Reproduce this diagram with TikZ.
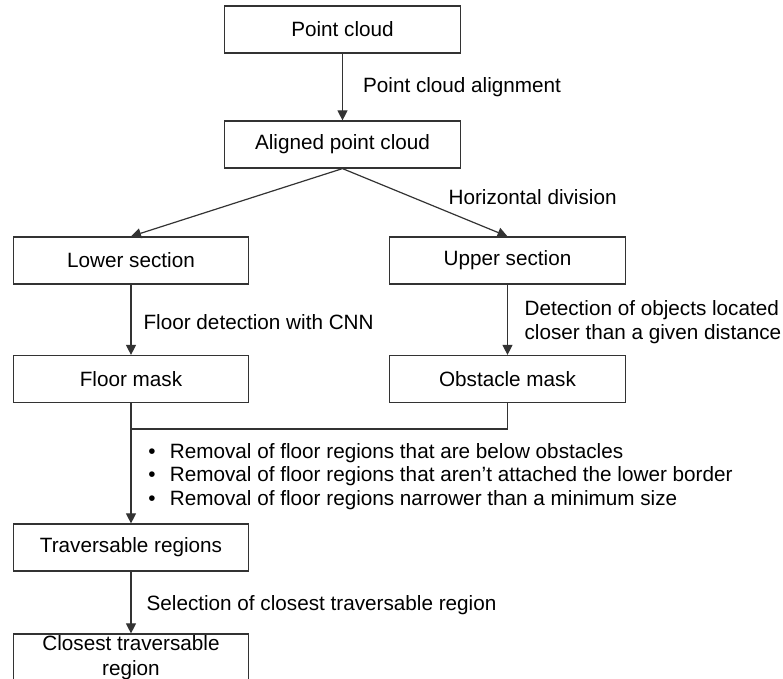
\documentclass[tikz,border=0pt]{standalone}
\usepackage{fontspec}
\setmainfont{Liberation Sans}
\usetikzlibrary{arrows.meta,positioning}

\tikzset{
  block/.style={draw=black!80, line width=0.6pt, minimum width=117.75pt, minimum height=23.5pt, inner sep=0pt, align=center},
  flow/.style={-{Triangle[length=5pt,width=5pt]}, draw=black!80, line width=0.6pt},
  link/.style={draw=black!80, line width=0.6pt},
  note/.style={inner sep=0pt, align=left}
}

\begin{document}
\begin{tikzpicture}[x=0.5pt, y=-0.5pt, font=\fontsize{10.35}{11.75}\selectfont]
\useasboundingbox (0,0) rectangle (783,679);

\node[block] (pc) at (342.5,29.5) {Point cloud};
\node[block] (apc) at (342.5,144.5) {Aligned point cloud};
\node[block] (lower) at (131,260.5) {Lower section};
\node[block] (upper) at (507.5,260.5) {Upper section};
\node[block] (floor) at (131,379) {Floor mask};
\node[block] (obst) at (507.5,379) {Obstacle mask};
\node[block] (trav) at (131,547.5) {Traversable regions};
\node[block] (closest) at (131,657.5) {Closest traversable\\[0.75pt]region};
\coordinate (join) at (131,429);

\draw[flow] (pc) to node[note, right=10pt] {Point cloud alignment} (apc);
\draw[flow] (apc.south) to (lower.north);
\draw[flow] (apc.south) to node[note, right=11.5pt, yshift=2.5pt] {Horizontal division} (upper.north);
\draw[flow] (lower) to node[note, right=6pt, yshift=-1pt] {Floor detection with CNN} (floor);
\draw[flow] (upper) to node[note, right=8.25pt, yshift=-1.25pt] {Detection of objects located\\closer than a given distance} (obst);
\draw[link] (obst.south) |- (join);
\draw[flow] (floor) to (trav);
\draw[flow] (trav) to node[note, right=7.5pt, yshift=-1.25pt] {Selection of closest traversable region} (closest);

\node[note, anchor=west] (rules) at (148,476.5) {•\hspace{0.69em}Removal of floor regions that are below obstacles\\
•\hspace{0.69em}Removal of floor regions that aren’t attached the lower border\\
•\hspace{0.69em}Removal of floor regions narrower than a minimum size};
\end{tikzpicture}
\end{document}
